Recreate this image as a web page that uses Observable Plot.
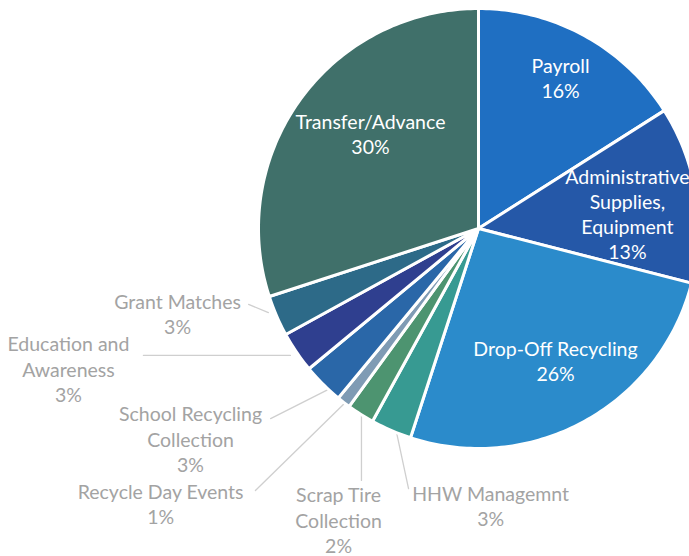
<!DOCTYPE html>
<html>
<head>
<meta charset="utf-8">
<script src="https://cdn.jsdelivr.net/npm/d3@7"></script>
<script src="https://cdn.jsdelivr.net/npm/@observablehq/plot@0.6"></script>
<style>
  html, body { margin: 0; padding: 0; background: #ffffff; }
  #chart svg { display: block; }
</style>
</head>
<body>
<div id="chart"></div>
<script>
// ---- Data ----
const categories = ["Payroll", "Administrative Supplies, Equipment", "Drop-Off Recycling", "HHW Managemnt",
  "Scrap Tire Collection", "Recycle Day Events", "School Recycling Collection", "Education and Awareness",
  "Grant Matches", "Transfer/Advance"];
const values = [16, 13, 26, 3, 2, 1, 3, 3, 3, 30];
const labelText = ["Payroll", "Administrative\nSupplies,\nEquipment", "Drop-Off Recycling", "HHW Managemnt",
  "Scrap Tire\nCollection", "Recycle Day Events", "School Recycling\nCollection", "Education and\nAwareness",
  "Grant Matches", "Transfer/Advance"];
const insideLabel = [true, true, true, false, false, false, false, false, false, true];

// ---- Styling / layout ----
const colors = ["#1f6fc2", "#2558a8", "#2b8bcb", "#379a92", "#4d9470", "#7f9bb4", "#2a67a8", "#2f3f8f", "#2d6a88", "#40706a"];
// label anchor positions in pie-radius units (pie centre = 0,0)
const labelPos = [[0.373, 0.686], [0.677, 0.068], [0.35, -0.60], [0.055, -1.259], [-0.636, -1.323],
  [-1.445, -1.25], [-1.309, -0.955], [-1.864, -0.636], [-1.368, -0.386], [-0.491, 0.432]];
// leader lines for outside labels [x1,y1,x2,y2] in pie-radius units
const leaders = {
  "HHW Managemnt": [-0.386, -0.864, -0.318, -1.182],
  "Scrap Tire Collection": [-0.532, -0.791, -0.532, -1.145],
  "Recycle Day Events": [-0.605, -0.791, -1.014, -1.191],
  "School Recycling Collection": [-0.673, -0.727, -0.945, -0.864],
  "Education and Awareness": [-0.855, -0.577, -1.523, -0.577],
  "Grant Matches": [-0.955, -0.382, -1.045, -0.345]
};

// ---- Build slice polygons from values ----
const arcs = d3.pie().sort(null).value(d => d)(values);
const slicePts = [];
arcs.forEach((a, i) => {
  const name = categories[i];
  slicePts.push({name, x: 0, y: 0});
  const n = Math.max(2, Math.ceil((a.endAngle - a.startAngle) / (Math.PI / 180)));
  for (let k = 0; k <= n; k++) {
    const t = a.startAngle + (a.endAngle - a.startAngle) * k / n;
    slicePts.push({name, x: Math.sin(t), y: Math.cos(t)});
  }
});

const labels = categories.map((c, i) => ({
  name: c,
  text: labelText[i] + "\n" + values[i] + "%",
  x: labelPos[i][0], y: labelPos[i][1],
  inside: insideLabel[i]
}));

const leaderPts = [];
Object.entries(leaders).forEach(([name, p]) => {
  leaderPts.push({name, x: p[0], y: p[1]});
  leaderPts.push({name, x: p[2], y: p[3]});
});

const W = 689, H = 556, cx = 478, cy = 228, R = 220;

const chart = Plot.plot({
  width: W,
  height: H,
  margin: 0,
  style: {background: "#ffffff", fontFamily: "Lato, sans-serif"},
  x: {domain: [-cx / R, (W - cx) / R], axis: null},
  y: {domain: [-(H - cy) / R, cy / R], axis: null},
  color: {domain: categories, range: colors},
  marks: [
    Plot.line(leaderPts, {x: "x", y: "y", z: "name", stroke: "#cfcfcf", strokeWidth: 1.3}),
    Plot.line(slicePts, {x: "x", y: "y", z: "name", fill: "name", stroke: "#ffffff", strokeWidth: 3,
      strokeLinejoin: "round", curve: "linear-closed"}),
    Plot.text(labels.filter(d => d.inside), {x: "x", y: "y", text: "text", fill: "#ffffff",
      fontSize: 19.5, lineHeight: 1.28, textAnchor: "middle"}),
    Plot.text(labels.filter(d => !d.inside), {x: "x", y: "y", text: "text", fill: "#a3a3a3",
      fontSize: 19.5, lineHeight: 1.3, textAnchor: "middle"})
  ]
});
document.getElementById("chart").appendChild(chart);
</script>
</body>
</html>
